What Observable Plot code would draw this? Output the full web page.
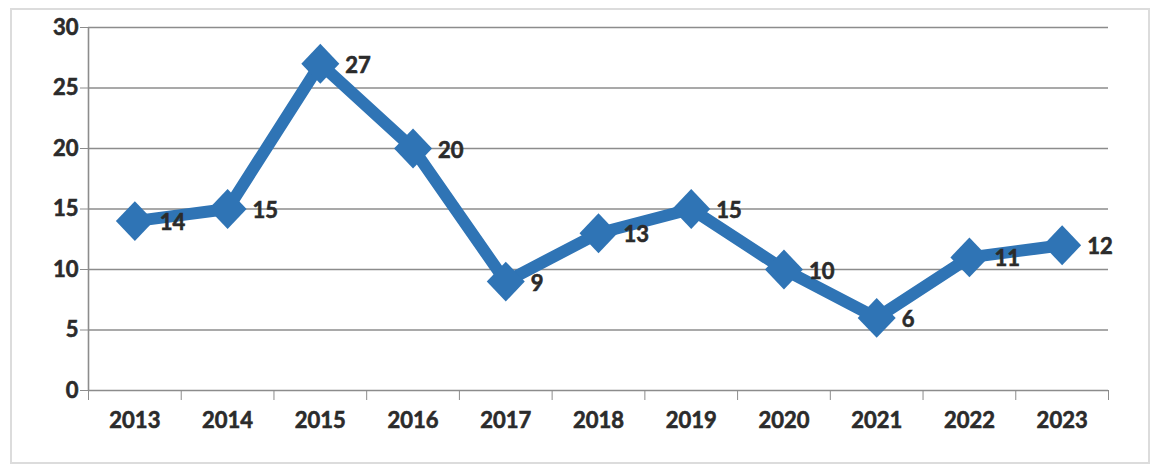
<!DOCTYPE html>
<html>
<head>
<meta charset="utf-8">
<script src="https://cdn.jsdelivr.net/npm/d3@7"></script>
<script src="https://cdn.jsdelivr.net/npm/@observablehq/plot@0.6"></script>
<style>
  html, body { margin: 0; padding: 0; background: #fff; }
  #wrap { position: relative; width: 1153px; height: 466px; }
  #frame { position: absolute; left: 10px; top: 8px; width: 1136px; height: 452px; border: 2px solid #dcdcdc; pointer-events: none; }
  svg { display: block; }
  svg text { stroke: #2b2b2b; stroke-width: 0.6px; paint-order: stroke; }
</style>
</head>
<body>
<div id="wrap"><div id="frame"></div></div>
<script>
const years = [2013, 2014, 2015, 2016, 2017, 2018, 2019, 2020, 2021, 2022, 2023];
const values = [14, 15, 27, 20, 9, 13, 15, 10, 6, 11, 12];
const yTicks = [0, 5, 10, 15, 20, 25, 30];

const data = years.map((year, i) => ({year, value: values[i]}));
const boundaries = [...years.map(y => y - 0.5), years[years.length - 1] + 0.5];

const diamond = {
  draw(ctx, size) {
    const r = Math.sqrt(size / Math.PI);
    ctx.moveTo(0, -r * 1.05);
    ctx.lineTo(r, 0);
    ctx.lineTo(0, r * 1.05);
    ctx.lineTo(-r, 0);
    ctx.closePath();
  }
};

const blue = "#2f74b5";
const font = "Lato, 'Open Sans', sans-serif";

const chart = Plot.plot({
  width: 1153,
  height: 466,
  marginLeft: 88,
  marginRight: 45,
  marginTop: 27,
  marginBottom: 76,
  style: {fontFamily: font, fontSize: "22px", fontWeight: "bold", color: "#2b2b2b", background: "transparent", overflow: "visible"},
  x: {type: "linear", domain: [years[0] - 0.5, years[years.length - 1] + 0.5]},
  y: {domain: [0, 30]},
  marks: [
    Plot.ruleY(yTicks, {stroke: "#8c8c8c", strokeWidth: 1.6}),
    Plot.ruleX([boundaries[0]], {stroke: "#8c8c8c", strokeWidth: 1.6}),
    Plot.axisY({ticks: yTicks, tickSize: 8, tickPadding: 2, label: null, stroke: "#8c8c8c", fill: "#2b2b2b", tickFormat: d => d}),
    Plot.axisX({ticks: boundaries, tickSize: 10, tickFormat: () => "", label: null, stroke: "#8c8c8c"}),
    Plot.axisX({ticks: years, tickSize: 0, tickPadding: 22, tickFormat: d => String(d), label: null, fill: "#2b2b2b"}),
    Plot.line(data, {x: "year", y: "value", stroke: blue, strokeWidth: 12, strokeLinejoin: "miter", strokeLinecap: "butt"}),
    Plot.dot(data, {x: "year", y: "value", symbol: diamond, r: 19, fill: blue, stroke: null}),
    Plot.text(data, {x: "year", y: "value", text: d => String(d.value), dx: 25, dy: 2, textAnchor: "start", fill: "#2b2b2b", fontSize: 22, fontWeight: "bold"})
  ]
});
document.getElementById("wrap").prepend(chart);
</script>
</body>
</html>
